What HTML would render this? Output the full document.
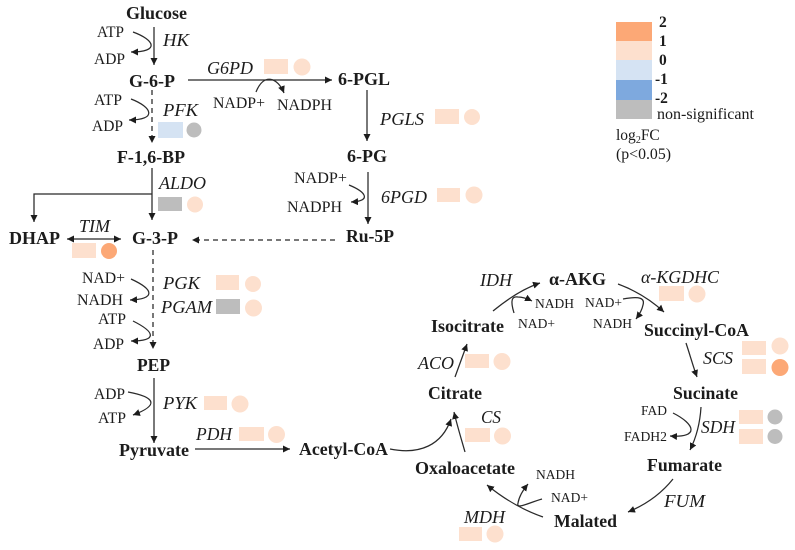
<!DOCTYPE html>
<html><head><meta charset="utf-8"><style>
html,body{margin:0;padding:0;background:#fff}
svg{display:block;font-family:"Liberation Serif",serif}
text{fill:#1a1a1a}
.b{font-weight:700;font-size:18px}
.r{font-size:16px}
.s{font-size:14px}
.i{font-style:italic;font-size:17.5px}
.l{fill:none;stroke:#2a2a2a;stroke-width:1.25}
.d{stroke-dasharray:5 4}
.p{fill:#FDE0CE}.o{fill:#FCA876}.g{fill:#BDBDBD}.u{fill:#D5E3F3}.m{fill:#7EA9DE}
</style></head><body>
<svg width="795" height="550" viewBox="0 0 795 550" xmlns="http://www.w3.org/2000/svg">
<defs>
<marker id="a" markerUnits="userSpaceOnUse" markerWidth="10" markerHeight="10" refX="7" refY="3.5" orient="auto"><path d="M0,0L7,3.5L0,7Z" fill="#1a1a1a"/></marker>
<marker id="z" markerUnits="userSpaceOnUse" markerWidth="10" markerHeight="10" refX="0" refY="3.5" orient="auto"><path d="M7,0L0,3.5L7,7Z" fill="#1a1a1a"/></marker>
<filter id="f" x="0" y="0" width="100%" height="100%"><feGaussianBlur stdDeviation="0.35"/></filter>
</defs>
<g filter="url(#f)">
<!-- legend -->
<rect x="616" y="22" width="36" height="19" class="o"/><rect x="616" y="41" width="36" height="19" class="p"/><rect x="616" y="60" width="36" height="20" class="u"/><rect x="616" y="80" width="36" height="20" class="m"/><rect x="616" y="100" width="36" height="19" class="g"/>
<g font-size="15.5" font-weight="700"><text x="659" y="27">2</text><text x="659" y="46">1</text><text x="659" y="65">0</text><text x="655" y="84">-1</text><text x="655" y="103">-2</text></g>
<text x="657" y="119" font-size="15.5" textLength="97" lengthAdjust="spacingAndGlyphs">non-significant</text>
<text x="616" y="140" font-size="15.5">log<tspan font-size="10" dy="3">2</tspan><tspan dy="-3">FC</tspan></text>
<text x="616" y="159" font-size="15.5" textLength="55" lengthAdjust="spacingAndGlyphs">(p&lt;0.05)</text>

<!-- bold metabolites -->
<g class="b">
<text x="126" y="19" textLength="61" lengthAdjust="spacingAndGlyphs">Glucose</text>
<text x="129" y="87" textLength="46" lengthAdjust="spacingAndGlyphs">G-6-P</text>
<text x="117" y="163" textLength="68" lengthAdjust="spacingAndGlyphs">F-1,6-BP</text>
<text x="9" y="244" textLength="51" lengthAdjust="spacingAndGlyphs">DHAP</text>
<text x="132" y="244" textLength="46" lengthAdjust="spacingAndGlyphs">G-3-P</text>
<text x="338" y="85" textLength="52" lengthAdjust="spacingAndGlyphs">6-PGL</text>
<text x="347" y="162" textLength="40" lengthAdjust="spacingAndGlyphs">6-PG</text>
<text x="346" y="242" textLength="48" lengthAdjust="spacingAndGlyphs">Ru-5P</text>
<text x="137" y="371" textLength="33" lengthAdjust="spacingAndGlyphs">PEP</text>
<text x="119" y="456" textLength="70" lengthAdjust="spacingAndGlyphs">Pyruvate</text>
<text x="299" y="455" textLength="89" lengthAdjust="spacingAndGlyphs">Acetyl-CoA</text>
<text x="549" y="285" textLength="57" lengthAdjust="spacingAndGlyphs">α-AKG</text>
<text x="431" y="332" textLength="73" lengthAdjust="spacingAndGlyphs">Isocitrate</text>
<text x="644" y="336" textLength="105" lengthAdjust="spacingAndGlyphs">Succinyl-CoA</text>
<text x="428" y="399" textLength="54" lengthAdjust="spacingAndGlyphs">Citrate</text>
<text x="673" y="399" textLength="65" lengthAdjust="spacingAndGlyphs">Sucinate</text>
<text x="415" y="474" textLength="100" lengthAdjust="spacingAndGlyphs">Oxaloacetate</text>
<text x="647" y="471" textLength="75" lengthAdjust="spacingAndGlyphs">Fumarate</text>
<text x="554" y="527" textLength="63" lengthAdjust="spacingAndGlyphs">Malated</text>
</g>

<!-- cofactors -->
<g class="r">
<text x="97" y="37" textLength="27" lengthAdjust="spacingAndGlyphs">ATP</text>
<text x="94" y="64" textLength="31" lengthAdjust="spacingAndGlyphs">ADP</text>
<text x="94" y="105" textLength="28" lengthAdjust="spacingAndGlyphs">ATP</text>
<text x="92" y="131" textLength="31" lengthAdjust="spacingAndGlyphs">ADP</text>
<text x="213" y="108" textLength="52" lengthAdjust="spacingAndGlyphs">NADP+</text>
<text x="277" y="110" textLength="55" lengthAdjust="spacingAndGlyphs">NADPH</text>
<text x="294" y="183" textLength="53" lengthAdjust="spacingAndGlyphs">NADP+</text>
<text x="287" y="212" textLength="55" lengthAdjust="spacingAndGlyphs">NADPH</text>
<text x="82" y="283" textLength="43" lengthAdjust="spacingAndGlyphs">NAD+</text>
<text x="77" y="305" textLength="46" lengthAdjust="spacingAndGlyphs">NADH</text>
<text x="98" y="324" textLength="28" lengthAdjust="spacingAndGlyphs">ATP</text>
<text x="93" y="349" textLength="31" lengthAdjust="spacingAndGlyphs">ADP</text>
<text x="94" y="399" textLength="31" lengthAdjust="spacingAndGlyphs">ADP</text>
<text x="98" y="423" textLength="28" lengthAdjust="spacingAndGlyphs">ATP</text>
</g>
<g class="s">
<text x="535" y="308" textLength="39" lengthAdjust="spacingAndGlyphs">NADH</text>
<text x="518" y="328" textLength="37" lengthAdjust="spacingAndGlyphs">NAD+</text>
<text x="585" y="307" textLength="37" lengthAdjust="spacingAndGlyphs">NAD+</text>
<text x="593" y="328" textLength="39" lengthAdjust="spacingAndGlyphs">NADH</text>
<text x="641" y="415" textLength="26" lengthAdjust="spacingAndGlyphs">FAD</text>
<text x="624" y="441" textLength="43" lengthAdjust="spacingAndGlyphs">FADH2</text>
<text x="536" y="479" textLength="39" lengthAdjust="spacingAndGlyphs">NADH</text>
<text x="551" y="502" textLength="37" lengthAdjust="spacingAndGlyphs">NAD+</text>
</g>

<!-- enzymes -->
<g class="i">
<text x="163" y="46" textLength="26" lengthAdjust="spacingAndGlyphs">HK</text>
<text x="207" y="74" textLength="46" lengthAdjust="spacingAndGlyphs">G6PD</text>
<text x="163" y="116" textLength="35" lengthAdjust="spacingAndGlyphs">PFK</text>
<text x="159" y="189" textLength="47" lengthAdjust="spacingAndGlyphs">ALDO</text>
<text x="79" y="232" textLength="31" lengthAdjust="spacingAndGlyphs">TIM</text>
<text x="380" y="125" textLength="44" lengthAdjust="spacingAndGlyphs">PGLS</text>
<text x="381" y="203" textLength="46" lengthAdjust="spacingAndGlyphs">6PGD</text>
<text x="163" y="289" textLength="37" lengthAdjust="spacingAndGlyphs">PGK</text>
<text x="161" y="313" textLength="51" lengthAdjust="spacingAndGlyphs">PGAM</text>
<text x="163" y="409" textLength="34" lengthAdjust="spacingAndGlyphs">PYK</text>
<text x="196" y="440" textLength="36" lengthAdjust="spacingAndGlyphs">PDH</text>
<text x="480" y="286" textLength="32" lengthAdjust="spacingAndGlyphs">IDH</text>
<text x="641" y="283" textLength="78" lengthAdjust="spacingAndGlyphs">α-KGDHC</text>
<text x="418" y="369" textLength="36" lengthAdjust="spacingAndGlyphs">ACO</text>
<text x="703" y="364" textLength="30" lengthAdjust="spacingAndGlyphs">SCS</text>
<text x="481" y="423" textLength="20" lengthAdjust="spacingAndGlyphs">CS</text>
<text x="701" y="433" textLength="34" lengthAdjust="spacingAndGlyphs">SDH</text>
<text x="664" y="507" textLength="41" lengthAdjust="spacingAndGlyphs">FUM</text>
<text x="464" y="523" textLength="41" lengthAdjust="spacingAndGlyphs">MDH</text>
</g>

<!-- boxes & circles -->
<rect x="264" y="59" width="24" height="15" class="p"/><circle cx="302" cy="67" r="8.5" class="p"/>
<rect x="158" y="122" width="25" height="16" class="u"/><circle cx="194" cy="130" r="7.5" class="g"/>
<rect x="158" y="197" width="24" height="14" class="g"/><circle cx="195" cy="204.5" r="8" class="p"/>
<rect x="72" y="243" width="24" height="15" class="p"/><circle cx="109" cy="251" r="8" class="o"/>
<rect x="435" y="109" width="24" height="15" class="p"/><circle cx="472" cy="117" r="8" class="p"/>
<rect x="437" y="188" width="23" height="14" class="p"/><circle cx="474" cy="195" r="8.5" class="p"/>
<rect x="216" y="275" width="23" height="15" class="p"/><circle cx="253" cy="284" r="8" class="p"/>
<rect x="216" y="299" width="24" height="15" class="g"/><circle cx="253.5" cy="308" r="8.5" class="p"/>
<rect x="204" y="396" width="23" height="14" class="p"/><circle cx="240" cy="404" r="8.5" class="p"/>
<rect x="239" y="427" width="25" height="14" class="p"/><circle cx="276.5" cy="434.5" r="8.5" class="p"/>
<rect x="659" y="286" width="25" height="15" class="p"/><circle cx="697" cy="294" r="8.5" class="p"/>
<rect x="742" y="341" width="24" height="14" class="p"/><circle cx="780" cy="346" r="8.5" class="p"/>
<rect x="742" y="359" width="24" height="15" class="p"/><circle cx="780" cy="367.5" r="8.5" class="o"/>
<rect x="465" y="354" width="24" height="14" class="p"/><circle cx="502" cy="361.5" r="8.5" class="p"/>
<rect x="465" y="428" width="25" height="14" class="p"/><circle cx="502.5" cy="436" r="8.5" class="p"/>
<rect x="739" y="410" width="24" height="14" class="p"/><circle cx="775" cy="417" r="7.5" class="g"/>
<rect x="739" y="429" width="24" height="15" class="p"/><circle cx="775" cy="436.5" r="7.5" class="g"/>
<rect x="459" y="527" width="23" height="14" class="p"/><circle cx="495" cy="534" r="8.5" class="p"/>

<!-- main connectors -->
<g class="l">
<path d="M154,27V65" marker-end="url(#a)"/>
<path d="M152,90V143" class="d" marker-end="url(#a)"/>
<path d="M152,168V220" marker-end="url(#a)"/>
<path d="M152,194H34V222" marker-end="url(#a)"/>
<path d="M67,239H121" marker-start="url(#z)" marker-end="url(#a)"/>
<path d="M335,240H192" class="d" marker-end="url(#a)"/>
<path d="M188,80H332" marker-end="url(#a)"/>
<path d="M367,90V141" marker-end="url(#a)"/>
<path d="M368,172V224" marker-end="url(#a)"/>
<path d="M153,250V349" class="d" marker-end="url(#a)"/>
<path d="M154,378V443" marker-end="url(#a)"/>
<path d="M195,449H290" marker-end="url(#a)"/>
<path d="M390,449C420,455 442,445 451,419" marker-end="url(#a)"/>
<path d="M465,452C461,438 457,425 454,412" marker-end="url(#a)"/>
<path d="M455,377L467,344" marker-end="url(#a)"/>
<path d="M493,311C510,297 525,288 540,283" marker-end="url(#a)"/>
<path d="M618,284C637,291 652,301 664,312" marker-end="url(#a)"/>
<path d="M686,343C690,355 693,366 697,377" marker-end="url(#a)"/>
<path d="M701,407C700,424 696,438 690,450" marker-end="url(#a)"/>
<path d="M673,479C661,494 645,505 628,512" marker-end="url(#a)"/>
<path d="M543,517C523,510 504,499 487,485" marker-end="url(#a)"/>
<!-- hooks -->
<path d="M133,32C155,40 160,52 131,52" marker-end="url(#a)"/>
<path d="M131,99C152,107 158,120 129,120" marker-end="url(#a)"/>
<path d="M256,92C264,72 278,78 284,93" marker-end="url(#a)"/>
<path d="M349,185C366,192 372,201 351,202" marker-end="url(#a)"/>
<path d="M131,279C155,290 155,299 130,300" marker-end="url(#a)"/>
<path d="M133,321C155,332 158,341 131,341" marker-end="url(#a)"/>
<path d="M128,392C155,397 160,405 133,415" marker-end="url(#a)"/>
<path d="M514,313C510,300 512,296 518,297C523,297 528,299 532,301" marker-end="url(#a)"/>
<path d="M623,299C640,296 645,298 643,305C642,310 639,315 636,319" marker-end="url(#a)"/>
<path d="M673,413C695,424 700,438 670,436" marker-end="url(#a)"/>
<path d="M542,499C528,503 516,510 518,503C519,497 523,490 528,484" marker-end="url(#a)"/>
</g>
</g>
</svg>
</body></html>
